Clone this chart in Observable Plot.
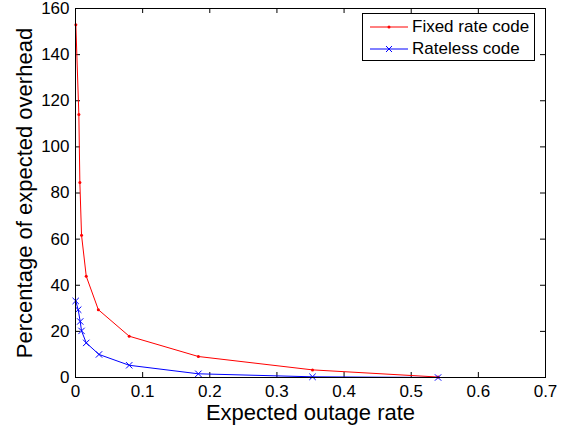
<!DOCTYPE html>
<html>
<head>
<meta charset="utf-8">
<script src="https://cdn.jsdelivr.net/npm/d3@7"></script>
<script src="https://cdn.jsdelivr.net/npm/@observablehq/plot@0.6"></script>
<style>
  html, body { margin: 0; padding: 0; background: #fff; }
  #wrap { position: relative; width: 566px; height: 430px; font-family: "Liberation Sans", Arial, sans-serif; }
  #legend { position: absolute; left: 362px; top: 13px; width: 171px; height: 46px; border: 1px solid #000; background: #fff; font-size: 17px; }
  #legend .row { position: absolute; left: 0; height: 20px; display: flex; align-items: center; }
  #legend svg { margin-left: 7px; margin-right: 4px; }
</style>
</head>
<body>
<div id="wrap"></div>
<script>
const xTicks = [0, 0.1, 0.2, 0.3, 0.4, 0.5, 0.6, 0.7];
const yTicks = [0, 20, 40, 60, 80, 100, 120, 140, 160];

const fixedX = [0.0005, 0.005, 0.0065, 0.009, 0.016, 0.034, 0.080, 0.183, 0.353, 0.540];
const fixedY = [153, 114, 84.5, 61.7, 43.9, 29.4, 17.9, 9.1, 3.3, 0.2];
const ratelessX = [0.0003, 0.004, 0.007, 0.009, 0.016, 0.035, 0.080, 0.183, 0.353, 0.540];
const ratelessY = [33.2, 29.4, 24.3, 20.2, 15.0, 10.0, 5.3, 1.6, 0.3, 0];

const seriesNames = ["Fixed rate code", "Rateless code"];
const seriesColors = ["#ff0000", "#0000ff"];

const fixed = fixedX.map((x, i) => ({x, y: fixedY[i]}));
const rateless = ratelessX.map((x, i) => ({x, y: ratelessY[i]}));

const W = 566, H = 430, mL = 75, mR = 21, mT = 8, mB = 53;
const pw = W - mL - mR, ph = H - mT - mB, tk = 5;

const chart = Plot.plot({
  width: W, height: H,
  marginLeft: mL, marginRight: mR, marginTop: mT, marginBottom: mB,
  style: {fontFamily: '"Liberation Sans", Arial, sans-serif', background: "#fff", overflow: "visible"},
  x: {domain: [0, 0.7]},
  y: {domain: [0, 160]},
  marks: [
    // inward ticks on all four sides
    Plot.tickX(xTicks, {x: d => d, stroke: "#000", insetTop: ph - tk}),
    Plot.tickX(xTicks, {x: d => d, stroke: "#000", insetBottom: ph - tk}),
    Plot.tickY(yTicks, {y: d => d, stroke: "#000", insetRight: pw - tk}),
    Plot.tickY(yTicks, {y: d => d, stroke: "#000", insetLeft: pw - tk}),
    Plot.axisX(xTicks, {tickSize: 0, tickPadding: 7, fontSize: 17, label: null, tickFormat: d => d === 0 ? "0" : String(d), fill: "#000"}),
    Plot.axisY(yTicks, {tickSize: 0, tickPadding: 6, fontSize: 17, label: null, fill: "#000"}),
    Plot.text(["Expected outage rate"], {frameAnchor: "bottom", dy: 27, lineAnchor: "top", textAnchor: "middle", fontSize: 22, fill: "#000"}),
    Plot.text(["Percentage of expected overhead"], {frameAnchor: "left", dx: -51, rotate: -90, textAnchor: "middle", lineAnchor: "middle", fontSize: 22, fill: "#000"}),
    Plot.line(fixed, {x: "x", y: "y", stroke: seriesColors[0], strokeWidth: 1}),
    Plot.dot(fixed, {x: "x", y: "y", r: 1.5, fill: seriesColors[0]}),
    Plot.line(rateless, {x: "x", y: "y", stroke: seriesColors[1], strokeWidth: 1}),
    Plot.dot(rateless, {x: "x", y: "y", symbol: "times", r: 3, stroke: seriesColors[1], strokeWidth: 1}),
    Plot.frame({stroke: "#000", strokeWidth: 1})
  ]
});

const wrap = document.getElementById("wrap");
wrap.appendChild(chart);

const legend = document.createElement("div");
legend.id = "legend";
const markerSvg = [
  '<svg width="38" height="10"><line x1="0" y1="5" x2="38" y2="5" stroke="#ff0000" stroke-width="1"/><circle cx="19" cy="5" r="1.5" fill="#ff0000"/></svg>',
  '<svg width="38" height="10"><line x1="0" y1="5" x2="38" y2="5" stroke="#0000ff" stroke-width="1"/><path d="M16,2L22,8M16,8L22,2" stroke="#0000ff" stroke-width="1"/></svg>'
];
seriesNames.forEach((name, i) => {
  const row = document.createElement("div");
  row.className = "row";
  row.style.top = (3 + i * 22) + "px";
  row.innerHTML = markerSvg[i] + "<span>" + name + "</span>";
  legend.appendChild(row);
});
wrap.appendChild(legend);
</script>
</body>
</html>
